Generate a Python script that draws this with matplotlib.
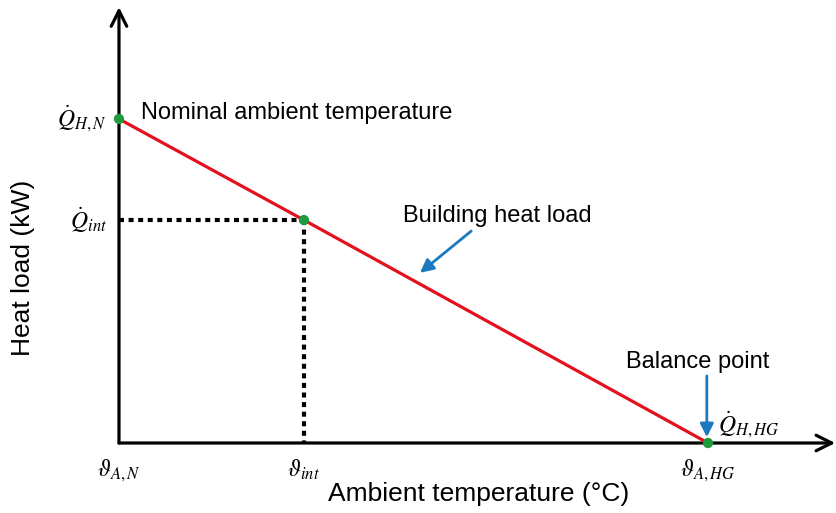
import matplotlib.pyplot as plt

# Schematic heat load line (normalised units)
temps = [0.0, 0.314, 1.0]          # theta_A,N, theta_int, theta_A,HG
loads = [1.0, 0.688, 0.0]          # Q_H,N, Q_int, Q_H,HG
temp_labels = [r'$\vartheta_{A,N}$', r'$\vartheta_{int}$', r'$\vartheta_{A,HG}$']
load_labels = [r'$\dot{Q}_{H,N}$', r'$\dot{Q}_{int}$']

plt.rcParams['font.family'] = ['Liberation Sans', 'DejaVu Sans']
plt.rcParams['mathtext.fontset'] = 'stix'

fig = plt.figure(figsize=(8.37, 5.13), dpi=100)
ax = fig.add_axes([0, 0, 1, 1])
ax.set_xlim(-0.202, 1.219)
ax.set_ylim(-0.216, 1.367)
ax.axis('off')

# axes arrows
ax.annotate('', xy=(0, 1.345), xytext=(0, 0),
            arrowprops=dict(arrowstyle='->', lw=2.3, color='black',
                            mutation_scale=28, shrinkA=0, shrinkB=0))
ax.annotate('', xy=(1.216, 0), xytext=(0, 0),
            arrowprops=dict(arrowstyle='->', lw=2.3, color='black',
                            mutation_scale=28, shrinkA=0, shrinkB=0))

# dotted guides to the intermediate point
ax.plot([temps[0], temps[1]], [loads[1], loads[1]], color='black', lw=3,
        linestyle=(0, (1.2, 1.1)), zorder=2)
ax.plot([temps[1], temps[1]], [loads[1], 0], color='black', lw=3,
        linestyle=(0, (1.2, 1.1)), zorder=2)

# building heat load line
ax.plot(temps, loads, color='#e3101e', lw=2.3, zorder=3)
ax.scatter(temps, loads, s=55, color='#1f9a3c', zorder=4, edgecolors='none')

# tick-like labels
for t, lab in zip(temps, temp_labels):
    ax.text(t, -0.045, lab, ha='center', va='top', fontsize=17)
ax.text(-0.02, loads[0], load_labels[0], ha='right', va='center', fontsize=17)
ax.text(-0.02, loads[1], load_labels[1], ha='right', va='center', fontsize=17)
ax.text(temps[2] + 0.017, 0.055, r'$\dot{Q}_{H,HG}$', ha='left', va='center', fontsize=17)

# annotations
ax.text(0.037, 1.018, 'Nominal ambient temperature', ha='left', va='center', fontsize=17)
ax.text(0.643, 0.70, 'Building heat load', ha='center', va='center', fontsize=17)
ax.annotate('', xy=(0.511, 0.525), xytext=(0.598, 0.654),
            arrowprops=dict(arrowstyle='-|>', lw=2, color='#1a7abf',
                            mutation_scale=20, shrinkA=0, shrinkB=0))
ax.text(0.983, 0.25, 'Balance point', ha='center', va='center', fontsize=17)
ax.annotate('', xy=(0.998, 0.018), xytext=(0.998, 0.207),
            arrowprops=dict(arrowstyle='-|>', lw=2, color='#1a7abf',
                            mutation_scale=20, shrinkA=0, shrinkB=0))

# axis titles
ax.text(-0.163, 0.54, 'Heat load (kW)', rotation=90, ha='center', va='center', fontsize=19)
ax.text(0.61, -0.158, 'Ambient temperature (°C)', ha='center', va='center', fontsize=19)

fig.savefig('out.png', dpi=100)
